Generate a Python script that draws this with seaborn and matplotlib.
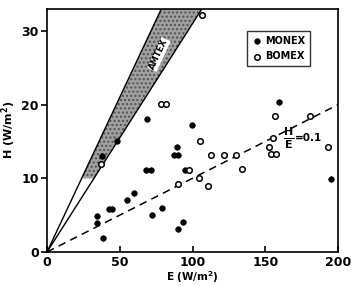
import numpy as np
import pandas as pd
import matplotlib
matplotlib.use("Agg")
import matplotlib.pyplot as plt
import seaborn as sns

# MONEX (filled) points
monex_E = [47.9, 37.6, 68.9, 68.0, 71.3, 99.5, 89.6, 87.5, 89.8, 94.8, 159.5, 195.0,
           60.0, 55.2, 42.8, 44.5, 34.6, 34.2, 38.3, 72.4, 79.2, 93.7, 90.2]
monex_H = [15.0, 13.0, 18.1, 11.1, 11.1, 17.2, 14.2, 13.2, 13.2, 11.1, 20.3, 9.9,
           8.0, 7.0, 5.9, 5.9, 4.9, 3.9, 1.9, 5.0, 6.0, 4.0, 3.1]
# BOMEX (open) points
bomex_E = [37.1, 78.1, 81.8, 105.2, 112.7, 121.9, 129.7, 97.8, 134.2, 104.5, 89.8, 110.4,
           156.7, 180.8, 155.5, 152.6, 154.0, 157.4, 193.3, 106.3]
bomex_H = [12.0, 20.1, 20.1, 15.1, 13.1, 13.1, 13.1, 11.1, 11.2, 10.0, 9.2, 9.0,
           18.4, 18.4, 15.5, 14.3, 13.3, 13.3, 14.3, 32.2]

# Bowen-ratio lines
amtex_slopes = [0.42, 0.31]
amtex_shade_H = [10, 33]
ref_ratio = 0.1

x_ticks = [0, 50, 100, 150, 200]
y_ticks = [0, 10, 20, 30]

sns.set_style("ticks")
plt.rcParams['font.family'] = ['DejaVu Sans']
plt.rcParams['font.weight'] = 'bold'
plt.rcParams['text.color'] = 'black'
plt.rcParams['axes.labelcolor'] = 'black'
plt.rcParams['xtick.color'] = 'black'
plt.rcParams['ytick.color'] = 'black'
plt.rcParams['axes.edgecolor'] = 'black'
plt.rcParams['mathtext.default'] = 'bf'

fig = plt.figure(figsize=(3.51, 2.86), dpi=100)
ax = fig.add_axes([0.134, 0.119, 0.829, 0.850])

df_m = pd.DataFrame({"E": monex_E, "H": monex_H})
df_b = pd.DataFrame({"E": bomex_E, "H": bomex_H})

# AMTEX band
E_line = np.array([0, 200.0])
for s in amtex_slopes:
    ax.plot(E_line, s * E_line, color="black", lw=1.0, zorder=2)
hh = np.linspace(amtex_shade_H[0], amtex_shade_H[1], 50)
ax.fill_betweenx(hh, hh / amtex_slopes[0], hh / amtex_slopes[1],
                 facecolor="#a0a0a0", edgecolor="#505050", hatch="....", lw=0, zorder=1)
ax.text(77, 26.8, "AMTEX", rotation=65, ha="center", va="center", fontsize=6,
        fontweight="bold", color="black", zorder=3,
        bbox=dict(facecolor="white", edgecolor="none", pad=0.4))

# H/E = 0.1 dashed
ax.plot(E_line, ref_ratio * E_line, color="black", lw=1.1, ls=(0, (5, 3.5)), zorder=2)
ax.text(166, 15.4, r"$\frac{H}{E}$", fontsize=11.5, ha="center", va="center")
ax.text(170.5, 15.5, "=0.1", fontsize=7.5, fontweight="bold", ha="left", va="center")

sns.scatterplot(data=df_m, x="E", y="H", ax=ax, color="black", s=16,
                edgecolor="black", linewidth=0.5, zorder=4, label="MONEX")
sns.scatterplot(data=df_b, x="E", y="H", ax=ax, facecolor="white", s=16,
                edgecolor="black", linewidth=1.1, zorder=4, label="BOMEX")

ax.set_xlim(0, 200)
ax.set_ylim(0, 33)
ax.set_xticks(x_ticks)
ax.set_yticks(y_ticks)
ax.tick_params(axis="x", direction="in", length=4, width=1.2, labelsize=9, pad=3)
ax.tick_params(axis="y", direction="out", length=4, width=1.2, labelsize=9, pad=2)
for lab in ax.get_xticklabels() + ax.get_yticklabels():
    lab.set_fontweight("bold")
for sp in ax.spines.values():
    sp.set_visible(True)
    sp.set_linewidth(1.2)

ax.set_xlabel("E (W/m$^2$)", fontsize=7.5, fontweight="bold", labelpad=0)
ax.set_ylabel("H (W/m$^2$)", fontsize=8, fontweight="bold", labelpad=2)

leg = ax.legend(loc="upper right", bbox_to_anchor=(0.92, 0.93), frameon=True,
                fancybox=False, edgecolor="black", fontsize=7, handletextpad=0.3,
                borderpad=0.5, labelspacing=0.6, handlelength=1.0)
leg.get_frame().set_linewidth(1.0)
for t in leg.get_texts():
    t.set_fontweight("bold")

fig.savefig("out.png", dpi=100)
